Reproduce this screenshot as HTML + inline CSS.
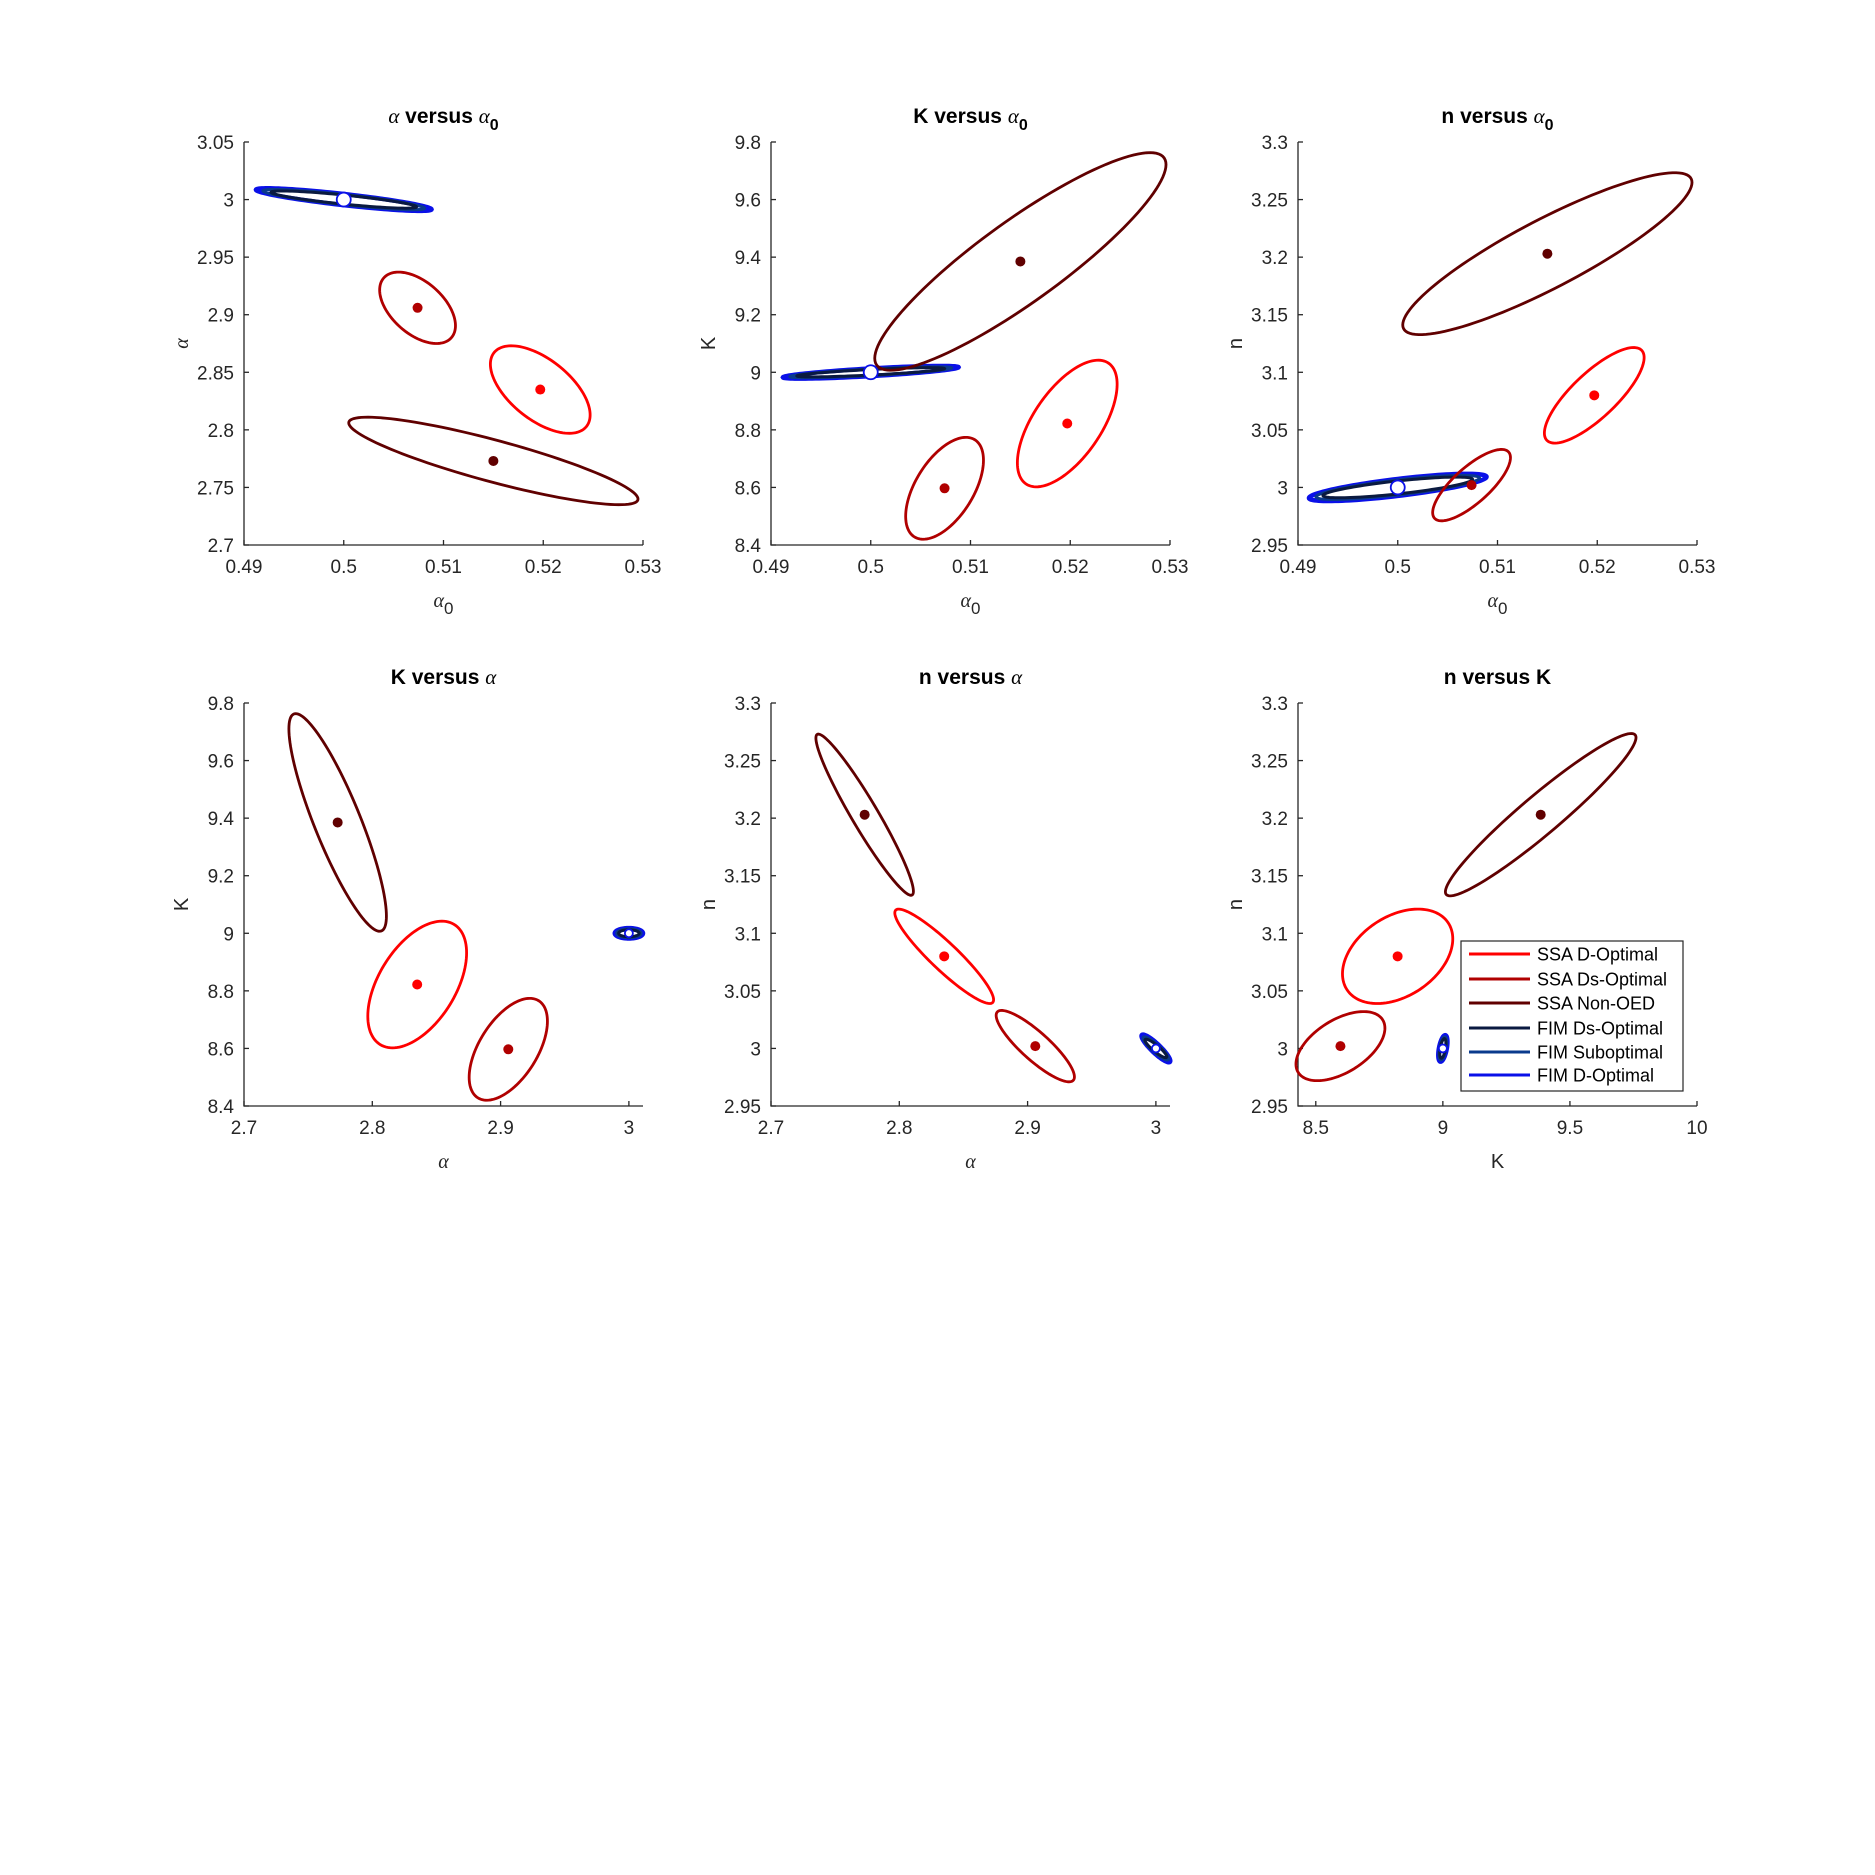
<!DOCTYPE html>
<html><head><meta charset="utf-8"><style>
html,body{margin:0;padding:0;background:#fff;}
svg{display:block;font-family:"Liberation Sans",sans-serif;}
</style></head><body>
<svg id="fig" width="1875" height="1875" xmlns="http://www.w3.org/2000/svg"></svg>
<script>
// ---- data ----
const seriesNames = ["SSA D-Optimal","SSA Ds-Optimal","SSA Non-OED","FIM Ds-Optimal","FIM Suboptimal","FIM D-Optimal"];
const seriesColors = ["#ff0000","#b00000","#600000","#0a1a40","#0a3a8c","#0a10e8"];
// centers per series: [alpha0, alpha, K, n]
const centerD  = [0.5197, 2.835, 8.822, 3.080];
const centerDs = [0.5074, 2.906, 8.597, 3.002];
const centerNo = [0.5150, 2.773, 9.385, 3.203];
const centerFIM= [0.5000, 3.000, 9.000, 3.000];
// ellipse shapes per panel: [sx, sy, rho]
const ellD  = [[0.0050,0.038,-0.58],[0.0050,0.220,0.62],[0.0050,0.0415,0.79],[0.0385,0.220,0.50],[0.0385,0.041,-0.92],[0.217,0.041,0.37]];
const ellDs = [[0.0038,0.031,-0.50],[0.0039,0.177,0.55],[0.0039,0.031,0.77],[0.0305,0.177,0.55],[0.0305,0.031,-0.86],[0.175,0.030,0.52]];
const ellNo = [[0.0145,0.038,-0.87],[0.0146,0.378,0.89],[0.0145,0.0703,0.88],[0.038,0.378,-0.86],[0.038,0.070,-0.95],[0.375,0.0705,0.95]];
const ellFD = [[0.0088,0.0098,-0.87],[0.0088,0.022,0.80],[0.0089,0.0118,0.78],[0.0110,0.018,0.0],[0.0112,0.012,-0.90],[0.018,0.0115,0.5]];
const ellFS = [[0.0081,0.0088,-0.86],[0.0081,0.019,0.80],[0.0082,0.0105,0.78],[0.0095,0.015,0.0],[0.0100,0.010,-0.90],[0.015,0.0100,0.5]];
const ellFDs= [[0.0073,0.0075,-0.85],[0.0074,0.016,0.80],[0.0075,0.0090,0.78],[0.0080,0.012,0.0],[0.0085,0.008,-0.90],[0.012,0.0085,0.5]];
// panels: which variables (indices into center arrays)
const panelVars = [[0,1],[0,2],[0,3],[1,2],[1,3],[2,3]];
const panelTitles = [["α"," versus ","α","0"],["K"," versus ","α","0"],["n"," versus ","α","0"],["K"," versus ","α",""],["n"," versus ","α",""],["n"," versus ","K",""]];
const xRanges = [[0.49,0.53],[0.49,0.53],[0.49,0.53],[2.7,3.011],[2.7,3.011],[8.43,10]];
const yRanges = [[2.7,3.05],[8.4,9.8],[2.95,3.3],[8.4,9.8],[2.95,3.3],[2.95,3.3]];
const xTicks = [[0.49,0.5,0.51,0.52,0.53],[0.49,0.5,0.51,0.52,0.53],[0.49,0.5,0.51,0.52,0.53],[2.7,2.8,2.9,3],[2.7,2.8,2.9,3],[8.5,9,9.5,10]];
const yTicks = [[2.7,2.75,2.8,2.85,2.9,2.95,3,3.05],[8.4,8.6,8.8,9,9.2,9.4,9.6,9.8],[2.95,3,3.05,3.1,3.15,3.2,3.25,3.3],[8.4,8.6,8.8,9,9.2,9.4,9.6,9.8],[2.95,3,3.05,3.1,3.15,3.2,3.25,3.3],[2.95,3,3.05,3.1,3.15,3.2,3.25,3.3]];
const xLabels = ["α0","α0","α0","α","α","K"];
const yLabels = ["α","K","n","K","n","n"];

const NS="http://www.w3.org/2000/svg";
const svg=document.getElementById('fig');
function mk(tag,attrs,parent){const e=document.createElementNS(NS,tag);for(const k in attrs)e.setAttribute(k,attrs[k]);(parent||svg).appendChild(e);return e;}
const lefts=[244,771,1298], tops=[142,703], W=399, H=403;
function fmt(v){return String(+v.toFixed(3));}

for(let p=0;p<6;p++){
  const ox=lefts[p%3], oy=tops[Math.floor(p/3)];
  const [x0,x1]=xRanges[p],[y0,y1]=yRanges[p];
  const sx=v=>ox+(v-x0)/(x1-x0)*W, sy=v=>oy+H-(v-y0)/(y1-y0)*H;
  const g=mk('g',{});
  
  
  const ax=mk('path',{d:`M${ox},${oy} V${oy+H} H${ox+W}`,stroke:'#262626','stroke-width':1.3,fill:'none'},g);
  
  
  xTicks[p].forEach(v=>{
    const x=sx(v);
    mk('line',{x1:x,x2:x,y1:oy+H,y2:oy+H-5,stroke:'#262626','stroke-width':1.3},g);
    const t=mk('text',{x:x,y:oy+H+28,'text-anchor':'middle','font-size':19,fill:'#262626'},g);
    t.textContent=fmt(v);
    
    
  });
  yTicks[p].forEach(v=>{
    const y=sy(v);
    mk('line',{x1:ox,x2:ox+5,y1:y,y2:y,stroke:'#262626','stroke-width':1.3},g);
    const t=mk('text',{x:ox-10,y:y+7,'text-anchor':'end','font-size':19,fill:'#262626'},g);
    t.textContent=fmt(v);
    
    
  });
  const tt=panelTitles[p];
  const ti=mk('text',{x:ox+W/2,y:oy-19,'text-anchor':'middle','font-size':21,'font-weight':'bold',fill:'#000'},g);
  
  
  const greek=s=>s==='α';
  const s1=mk('tspan',{'font-family':greek(tt[0])?'"Liberation Serif",serif':'"Liberation Sans",sans-serif','font-style':greek(tt[0])?'italic':'normal','font-weight':greek(tt[0])?'normal':'bold'},ti);s1.textContent=tt[0];
  const s2=mk('tspan',{},ti);s2.textContent=tt[1];
  const s3=mk('tspan',{'font-family':greek(tt[2])?'"Liberation Serif",serif':'"Liberation Sans",sans-serif','font-style':greek(tt[2])?'italic':'normal','font-weight':greek(tt[2])?'normal':'bold'},ti);s3.textContent=tt[2];
  if(tt[3]){const s4=mk('tspan',{dy:7,'font-size':16},ti);s4.textContent=tt[3];}
  const xl=xLabels[p];
  const xt=mk('text',{x:ox+W/2,y:oy+H+62,'text-anchor':'middle','font-size':20,fill:'#262626'},g);
  
  
  if(xl[0]==='α'){const a=mk('tspan',{'font-family':'"Liberation Serif",serif','font-style':'italic'},xt);a.textContent='α';
    if(xl.length>1){const b=mk('tspan',{dy:7,'font-size':17},xt);b.textContent=xl.slice(1);}}
  else xt.textContent=xl;
  const yl=yLabels[p];
  const yt=mk('text',{x:0,y:0,'text-anchor':'middle','font-size':20,fill:'#262626',transform:`translate(${ox-56},${oy+H/2}) rotate(-90)`},g);
  
  
  if(yl==='α'){yt.setAttribute('font-family','"Liberation Serif",serif');yt.setAttribute('font-style','italic');}
  yt.textContent=yl;
  const [vi,vj]=panelVars[p];
  function ell(c,e,color,w,name){
    const [ex,ey,r]=e;let d='';
    for(let k=0;k<=120;k++){const t=k/120*2*Math.PI;
      const X=c[vi]+ex*Math.cos(t), Y=c[vj]+ey*(r*Math.cos(t)+Math.sqrt(1-r*r)*Math.sin(t));
      d+=(k?'L':'M')+sx(X).toFixed(2)+','+sy(Y).toFixed(2);}
    const el=mk('path',{d:d+'Z',fill:'none',stroke:color,'stroke-width':w},g);
    
    
  }
  ell(centerFIM,ellFD[p],seriesColors[5],4.5,'fim-d-optimal-ellipse');
  ell(centerFIM,ellFS[p],seriesColors[4],3,'fim-suboptimal-ellipse');
  ell(centerFIM,ellFDs[p],seriesColors[3],3,'fim-ds-optimal-ellipse');
  ell(centerD,ellD[p],seriesColors[0],2.8,'ssa-d-optimal-ellipse');
  ell(centerDs,ellDs[p],seriesColors[1],2.8,'ssa-ds-optimal-ellipse');
  ell(centerNo,ellNo[p],seriesColors[2],2.8,'ssa-non-oed-ellipse');
  [[centerD,0],[centerDs,1],[centerNo,2]].forEach(([c,i])=>{
    const m=mk('circle',{cx:sx(c[vi]),cy:sy(c[vj]),r:5,fill:seriesColors[i]},g);
    
    
  });
  const fm=mk('circle',{cx:sx(centerFIM[vi]),cy:sy(centerFIM[vj]),r:(p>=3?4:7),fill:'#fff',stroke:'#0a10e8','stroke-width':1.8},g);
  
  
}
const lg=mk('g',{});


mk('rect',{x:1461,y:941,width:222,height:150,fill:'#fff',stroke:'#262626','stroke-width':1.2},lg);
const ly=[954,979,1003,1028,1052,1075];
seriesNames.forEach((s,i)=>{
  const e=mk('g',{},lg);
  
  
  mk('line',{x1:1469,x2:1530,y1:ly[i],y2:ly[i],stroke:seriesColors[i],'stroke-width':3},e);
  const t=mk('text',{x:1537,y:ly[i]+6.5,'font-size':18,fill:'#000'},e);t.textContent=s;
});
</script>
</body></html>
